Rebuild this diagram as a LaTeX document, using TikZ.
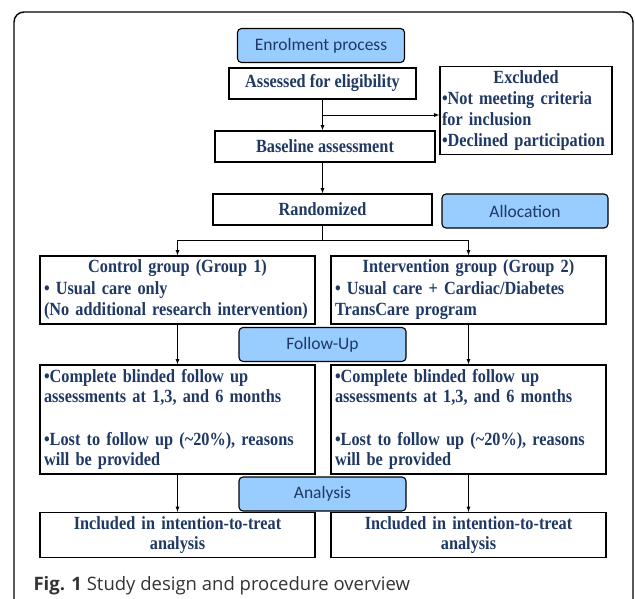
\documentclass[tikz,border=0pt]{standalone}
\usepackage{fontspec}
\setmainfont{Liberation Serif}[FakeStretch=0.875]
\newfontfamily\phasefont{Carlito}
\newfontfamily\capfont{Open Sans}
\usetikzlibrary{shapes,arrows,positioning,calc}
\definecolor{navy}{HTML}{1F3864}
\definecolor{lightblue}{HTML}{99CCFF}

\begin{document}
\begin{tikzpicture}[x=1pt, y=-1pt,
    box/.style={rectangle, draw, line width=1.3pt, text=navy, inner sep=4pt, font=\fontsize{18.6}{21.5}\selectfont\bfseries},
    phase/.style={rectangle, draw, rounded corners=4pt, line width=1.1pt, fill=lightblue, text=navy, minimum width=167pt, minimum height=34pt, font=\fontsize{17.5}{20}\selectfont\phasefont},
    arrow/.style={->, >=latex, line width=0.8pt}
]
\useasboundingbox (0,0) rectangle (635,599);

% outer frame
\draw[line width=1.4pt, rounded corners=10pt] (14,640) -- (14,12) -- (633,12) -- (633,640);

% enrolment
\node[phase] (enrol) at (321,45.5) {Enrolment process};
\node[box, minimum width=187pt, minimum height=31pt] (assess) at (322.5,83.5) {Assessed for eligibility};
\node[box, text width=168pt, inner xsep=2pt, align=left, minimum height=87pt, font=\fontsize{18.6}{21}\selectfont\bfseries] (excl) at (526,110.5)
    {\makebox[\linewidth]{Excluded}\\\textbullet Not meeting criteria\\for inclusion\\\textbullet Declined participation};
\node[box, minimum width=220pt, minimum height=31pt] (base) at (325,146.5) {Baseline assessment};

% allocation
\node[box, minimum width=219pt, minimum height=31pt] (rand) at (322.5,209.5) {Randomized};
\node[phase, minimum width=166pt] (alloc) at (525,211) {Allocation};
\node[box, text width=267pt, align=left, minimum height=68pt] (ctrl) at (177.5,290)
    {\makebox[\linewidth]{Control group (Group 1)}\\\textbullet{} Usual care only\\\mbox{(No additional research intervention)}};
\node[box, text width=267pt, align=left, minimum height=68pt] (intv) at (468.5,290)
    {\makebox[\linewidth]{Intervention group (Group 2)}\\\textbullet{} Usual care + Cardiac/Diabetes\\TransCare program};

% follow-up
\node[phase] (fup) at (322.5,344.5) {Follow-Up};
\node[box, text width=267pt, align=left, minimum height=109pt, font=\fontsize{18.6}{20}\selectfont\bfseries] (cmpl_l) at (177.5,419.5)
    {\textbullet Complete blinded follow up\\assessments at 1,3, and 6 months\\[23pt]\textbullet Lost to follow up (\textasciitilde20\%), reasons\\will be provided};
\node[box, text width=267pt, align=left, minimum height=109pt, font=\fontsize{18.6}{20}\selectfont\bfseries] (cmpl_r) at (468.5,419.5)
    {\textbullet Complete blinded follow up\\assessments at 1,3, and 6 months\\[23pt]\textbullet Lost to follow up (\textasciitilde20\%), reasons\\will be provided};

% analysis
\node[phase] (ana) at (322.5,494) {Analysis};
\node[box, text width=267pt, align=center, minimum height=44pt, font=\fontsize{18.6}{20}\selectfont\bfseries] (incl_l) at (177.5,535)
    {Included in intention-to-treat\\analysis};
\node[box, text width=267pt, align=center, minimum height=44pt, font=\fontsize{18.6}{20}\selectfont\bfseries] (incl_r) at (468.5,535)
    {Included in intention-to-treat\\analysis};

% connectors
\coordinate (exsplit) at ($(assess.south)!0.5!(assess.south |- base.north)$);
\coordinate (split) at ($(rand.south)+(0,15)$);
\draw[arrow] (assess.south) -- (assess.south |- base.north);
\draw[arrow] (exsplit) -- (exsplit -| excl.west);
\draw[arrow] (rand.north |- base.south) -- (rand.north);
\draw (rand.south) -- (split);
\draw[arrow] (split) -| (ctrl.north);
\draw[arrow] (split) -| (intv.north);
\draw[arrow] (ctrl) -- (cmpl_l);
\draw[arrow] (intv) -- (cmpl_r);
\draw[arrow] (cmpl_l) -- (incl_l);
\draw[arrow] (cmpl_r) -- (incl_r);

% caption
\node[anchor=base west, text=black!80, font=\fontsize{18.5}{20}\selectfont\capfont] (caption) at (30,590)
    {\textbf{Fig. 1} Study design and procedure overview};
\end{tikzpicture}
\end{document}
